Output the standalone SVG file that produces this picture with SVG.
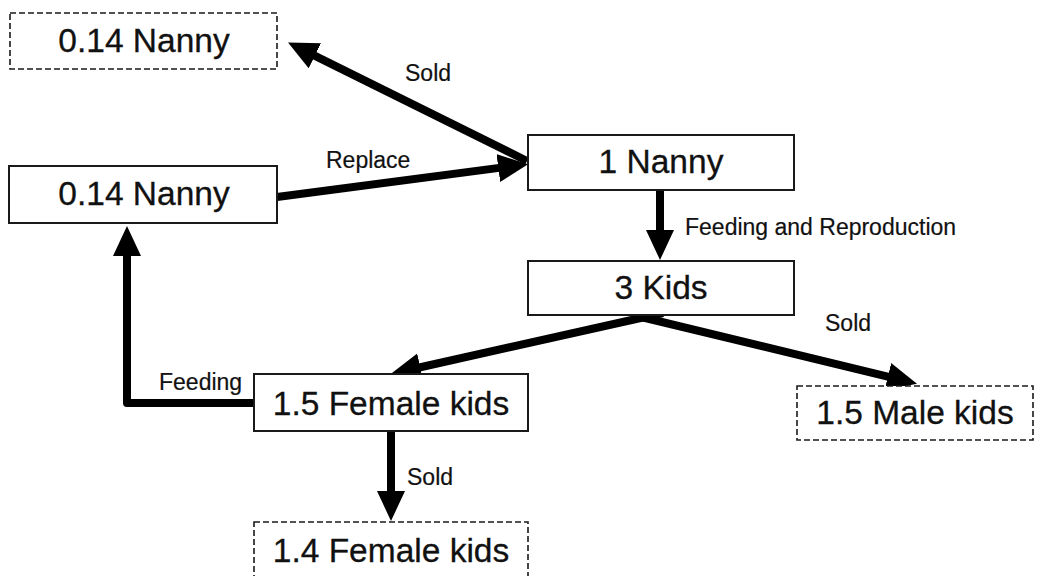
<svg xmlns="http://www.w3.org/2000/svg" width="1041" height="576" viewBox="0 0 1041 576">
  <style>
    .box { fill: #ffffff; stroke: #1a1a1a; stroke-width: 2; }
    .dashed { fill: #ffffff; stroke: #1a1a1a; stroke-width: 1.6; stroke-dasharray: 6 3; }
    .node-text { font-family: "Liberation Sans", Arial, sans-serif; font-size: 33.5px; fill: #111111; text-anchor: middle; stroke: #111111; stroke-width: 0.3; }
    .label { font-family: "Liberation Sans", Arial, sans-serif; font-size: 23px; fill: #111111; stroke: #111111; stroke-width: 0.2; }
    .flow { fill: none; stroke: #000000; stroke-width: 8; stroke-linejoin: round; }
  </style>
  <defs>
    <!-- head starts where the line stops, so the tip stays sharp -->
    <marker id="head" markerUnits="userSpaceOnUse" markerWidth="32" markerHeight="30" refX="1" refY="14" orient="auto">
      <path d="M0,0 L30,14 L0,28 Z" fill="#000000"/>
    </marker>
  </defs>

  <rect width="1041" height="576" fill="#ffffff"/>

  <!-- connectors -->
  <g id="connectors">
    <path class="flow" d="M527,161 L314,55.3" marker-end="url(#head)"/>
    <path class="flow" d="M277,197 L499.3,167.9" marker-end="url(#head)"/>
    <path class="flow" d="M660,190 L660,231" marker-end="url(#head)"/>
    <path class="flow" d="M663,313 L419.3,367.5" marker-end="url(#head)"/>
    <path class="flow" d="M637,316 L888.8,376.9" marker-end="url(#head)"/>
    <path class="flow" d="M254,403 L127,403 L127,255" marker-end="url(#head)"/>
    <path class="flow" d="M391,431 L391,492" marker-end="url(#head)"/>

    <text class="label" x="405" y="81">Sold</text>
    <text class="label" x="326" y="168">Replace</text>
    <text class="label" x="685" y="235">Feeding and Reproduction</text>
    <text class="label" x="825" y="331">Sold</text>
    <text class="label" x="159" y="390">Feeding</text>
    <text class="label" x="407" y="485">Sold</text>
  </g>

  <!-- nodes -->
  <g id="nanny-sold">
    <rect class="dashed" x="10" y="13" width="267" height="56"/>
    <text class="node-text" x="144" y="52">0.14 Nanny</text>
  </g>
  <g id="nanny-replace">
    <rect class="box" x="9" y="166" width="268" height="57"/>
    <text class="node-text" x="144" y="205">0.14 Nanny</text>
  </g>
  <g id="nanny">
    <rect class="box" x="528" y="135" width="266" height="55"/>
    <text class="node-text" x="661" y="173">1 Nanny</text>
  </g>
  <g id="kids">
    <rect class="box" x="528" y="261" width="266" height="54"/>
    <text class="node-text" x="661" y="299">3 Kids</text>
  </g>
  <g id="female-kids">
    <rect class="box" x="254" y="374" width="274" height="57"/>
    <text class="node-text" x="391" y="415">1.5 Female kids</text>
  </g>
  <g id="female-kids-sold">
    <rect class="dashed" x="254" y="522" width="274" height="57"/>
    <text class="node-text" x="391" y="562">1.4 Female kids</text>
  </g>
  <g id="male-kids-sold">
    <rect class="dashed" x="797" y="386" width="236" height="54"/>
    <text class="node-text" x="915" y="424">1.5 Male kids</text>
  </g>
</svg>
